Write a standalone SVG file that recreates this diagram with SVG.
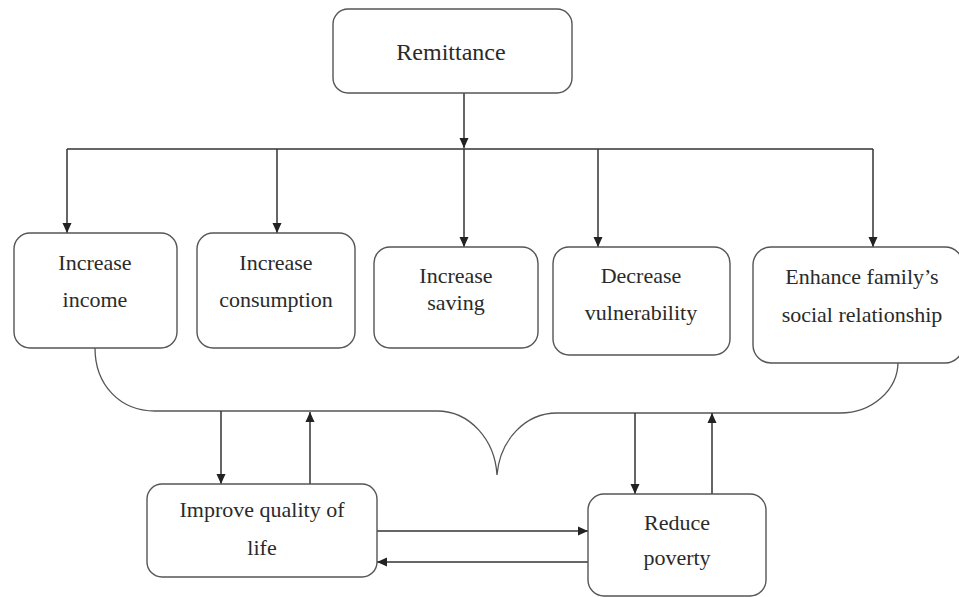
<svg xmlns="http://www.w3.org/2000/svg" width="959" height="597" viewBox="0 0 959 597">
<style>
.box{fill:#fff;stroke:#555;stroke-width:1.4}
.t{font-size:22px;fill:#2a2a2a;text-anchor:middle}
.c{fill:none;stroke:#333;stroke-width:1.5}
.b{fill:none;stroke:#555;stroke-width:1.3}
</style>
<defs>
<marker id="ah" viewBox="0 0 10 10" refX="10" refY="5" markerWidth="10" markerHeight="10" markerUnits="userSpaceOnUse" orient="auto">
<path d="M0,0.5 L10,5 L0,9.5 Z" fill="#222"/>
</marker>
</defs>
<rect width="959" height="597" fill="#fff"/>
<g id="connectors">
<line class="c" x1="464" y1="93" x2="464" y2="148" marker-end="url(#ah)"/>
<line class="c" x1="67" y1="149" x2="873" y2="149"/>
<line class="c" x1="67" y1="149" x2="67" y2="233" marker-end="url(#ah)"/>
<line class="c" x1="277" y1="149" x2="277" y2="233" marker-end="url(#ah)"/>
<line class="c" x1="464" y1="149" x2="464" y2="247" marker-end="url(#ah)"/>
<line class="c" x1="598" y1="149" x2="598" y2="247" marker-end="url(#ah)"/>
<line class="c" x1="873" y1="149" x2="873" y2="247" marker-end="url(#ah)"/>
<path class="b" d="M95,348 C95,385 120,411 155,411 L437,411 C470,411 495,440 497,475 C500,440 525,413 557,413 L840,413 C872,413 898,390 898,362"/>
<line class="c" x1="221" y1="411" x2="221" y2="484" marker-end="url(#ah)"/>
<line class="c" x1="310" y1="484" x2="310" y2="412" marker-end="url(#ah)"/>
<line class="c" x1="635" y1="413" x2="635" y2="494" marker-end="url(#ah)"/>
<line class="c" x1="712" y1="494" x2="712" y2="413" marker-end="url(#ah)"/>
<line class="c" x1="377" y1="531" x2="588" y2="531" marker-end="url(#ah)"/>
<line class="c" x1="588" y1="562" x2="377" y2="562" marker-end="url(#ah)"/>
</g>
<g font-family="Liberation Serif, Times New Roman, serif">
<g id="remittance">
<rect class="box" x="333" y="9" width="239" height="84" rx="15"/>
<text class="t" x="451" y="60" style="font-size:24px">Remittance</text>
</g>
<g id="increase-income">
<rect class="box" x="14" y="233" width="163" height="115" rx="16"/>
<text class="t" x="95" y="270">Increase</text>
<text class="t" x="95" y="307">income</text>
</g>
<g id="increase-consumption">
<rect class="box" x="197" y="233" width="158" height="115" rx="16"/>
<text class="t" x="276" y="270">Increase</text>
<text class="t" x="276" y="307">consumption</text>
</g>
<g id="increase-saving">
<rect class="box" x="374" y="247" width="164" height="101" rx="16"/>
<text class="t" x="456" y="283">Increase</text>
<text class="t" x="456" y="310">saving</text>
</g>
<g id="decrease-vulnerability">
<rect class="box" x="553" y="247" width="177" height="108" rx="16"/>
<text class="t" x="641" y="283">Decrease</text>
<text class="t" x="641" y="320">vulnerability</text>
</g>
<g id="enhance-social">
<rect class="box" x="753" y="247" width="210" height="116" rx="18"/>
<text class="t" x="862" y="284">Enhance family’s</text>
<text class="t" x="862" y="322">social relationship</text>
</g>
<g id="improve-quality">
<rect class="box" x="147" y="484" width="230" height="93" rx="15"/>
<text class="t" x="262" y="517">Improve quality of</text>
<text class="t" x="262" y="555">life</text>
</g>
<g id="reduce-poverty">
<rect class="box" x="588" y="494" width="178" height="102" rx="16"/>
<text class="t" x="677" y="530">Reduce</text>
<text class="t" x="677" y="565">poverty</text>
</g>
</g>
</svg>
